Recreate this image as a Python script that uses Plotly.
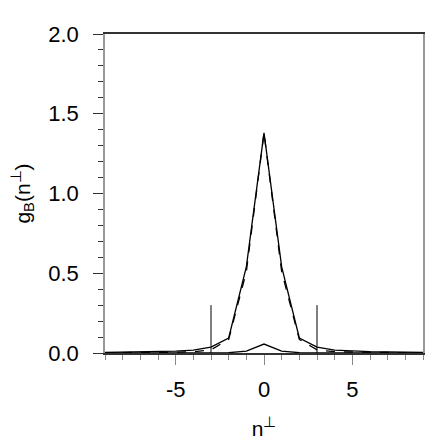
import plotly.graph_objects as go

n = list(range(-9, 10))
g_solid = [0.004, 0.005, 0.007, 0.009, 0.012, 0.018, 0.037, 0.094, 0.54, 1.38,
           0.54, 0.094, 0.037, 0.018, 0.012, 0.009, 0.007, 0.005, 0.004]
g_dashed = [0.002, 0.002, 0.003, 0.004, 0.005, 0.008, 0.02, 0.085, 0.51, 1.38,
            0.51, 0.085, 0.02, 0.008, 0.005, 0.004, 0.003, 0.002, 0.002]
g_small = [0, 0, 0, 0, 0, 0, 0, 0.002, 0.012, 0.056,
           0.012, 0.002, 0, 0, 0, 0, 0, 0, 0]
cut_x = [-3, 3]
cut_h = 0.3
x_tickvals = [-5, 0, 5]
x_ticktext = ["-5", "0", "5"]
y_tickvals = [0, 0.5, 1, 1.5, 2]
y_ticktext = ["0.0", "0.5", "1.0", "1.5", "2.0"]

fig = go.Figure()
fig.add_trace(go.Scatter(x=n, y=g_dashed, mode="lines",
                         line=dict(color="black", width=1.3, dash="dash")))
fig.add_trace(go.Scatter(x=n, y=g_solid, mode="lines",
                         line=dict(color="black", width=1.3)))
fig.add_trace(go.Scatter(x=n, y=g_small, mode="lines",
                         line=dict(color="black", width=1.3)))
for cx in cut_x:
    fig.add_trace(go.Scatter(x=[cx, cx], y=[0, cut_h], mode="lines",
                             line=dict(color="black", width=1)))

font = dict(family="Liberation Sans, Arial, sans-serif", size=22, color="black")
title_font = dict(family="Liberation Sans, Arial, sans-serif", size=21, color="black")
fig.update_layout(
    width=443, height=443,
    margin=dict(l=97, r=28, t=26, b=98),
    plot_bgcolor="white", paper_bgcolor="white",
    showlegend=False,
    font=font,
)
fig.update_xaxes(
    range=[-9, 9], tickvals=x_tickvals, ticktext=x_ticktext,
    ticks="outside", ticklen=10,
    tickcolor="#888", tickwidth=1, ticklabelstandoff=6,
    minor=dict(dtick=1, tick0=0, ticks="outside", ticklen=5, tickcolor="#888"),
    showline=True, linecolor="#333", linewidth=1.5, mirror=True,
    showgrid=False, zeroline=False, automargin=False,
    title=dict(text="n<sup>⊥</sup>", font=title_font, standoff=20),
)
fig.update_yaxes(
    range=[0, 2], tickvals=y_tickvals, ticktext=y_ticktext,
    ticks="outside", ticklen=10, tickcolor="#333", tickwidth=1,
    ticklabelstandoff=10,
    minor=dict(dtick=0.1, tick0=0, ticks="outside", ticklen=5, tickcolor="#333"),
    showline=True, linecolor="#999", linewidth=1.5, mirror=True,
    showgrid=False, zeroline=False, automargin=False,
    title=dict(text="g<sub>B</sub>(n<sup>⊥</sup>)", font=title_font, standoff=22),
)
fig.write_html("out.html")
